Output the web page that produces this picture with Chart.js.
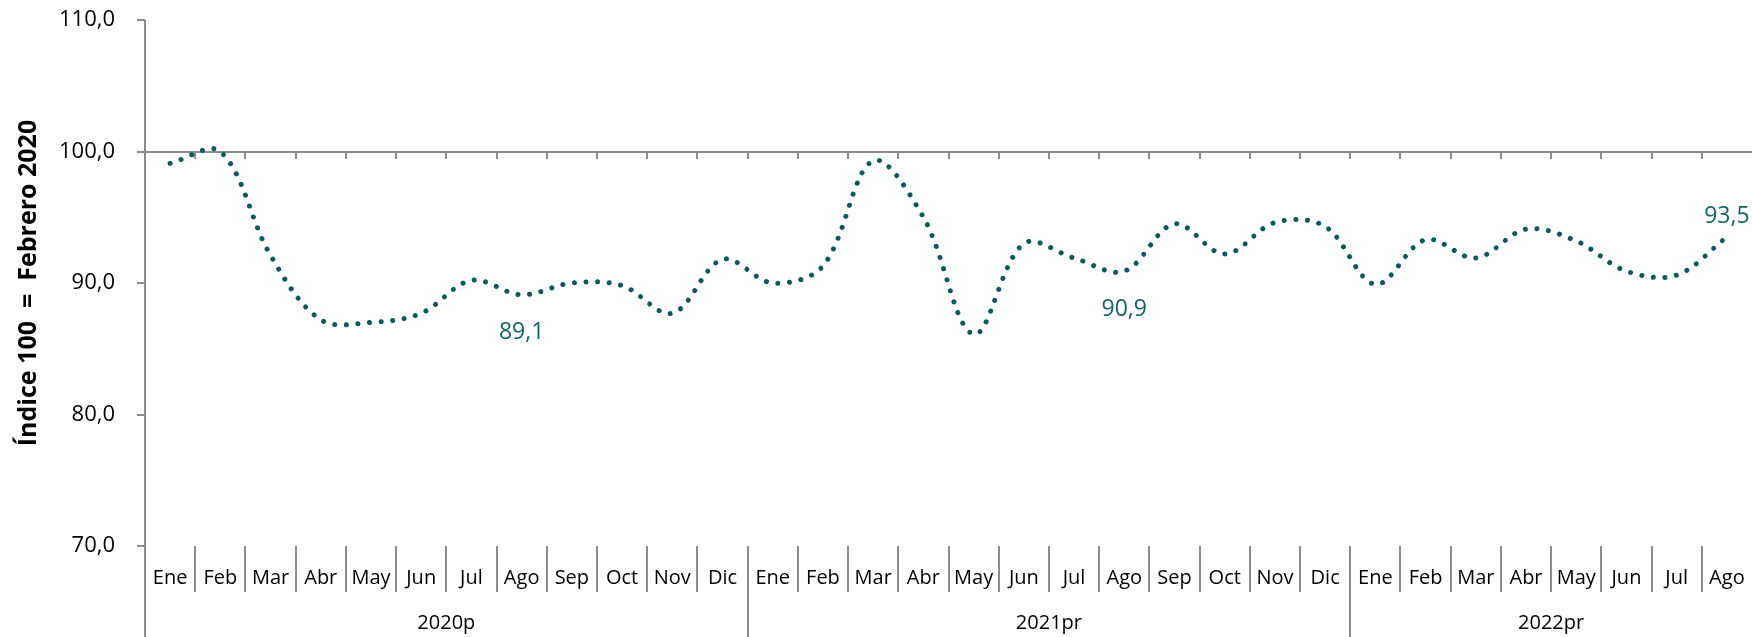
<!DOCTYPE html>
<html>
<head>
<meta charset="utf-8">
<script src="https://cdn.jsdelivr.net/npm/chart.js@4/dist/chart.umd.min.js"></script>
<style>
  html, body { margin: 0; padding: 0; background: #ffffff; }
  #wrap { width: 1752px; height: 637px; position: relative; }
</style>
</head>
<body>
<div id="wrap"><canvas id="c" width="1752" height="637"></canvas></div>
<script>
// ---- data ----
const months = ['Ene','Feb','Mar','Abr','May','Jun','Jul','Ago','Sep','Oct','Nov','Dic'];
const years = ['2020p', '2021pr', '2022pr'];
const yearCounts = [12, 12, 8];
const values2020 = [99.1, 100.0, 92.1, 87.2, 87.0, 87.7, 90.2, 89.1, 90.0, 89.8, 87.7, 91.8];
const values2021 = [90.0, 91.3, 99.3, 95.0, 86.1, 93.0, 91.9, 90.9, 94.5, 92.2, 94.6, 94.3];
const values2022 = [89.9, 93.3, 91.9, 94.1, 93.2, 90.9, 90.6, 93.5];
const yTicks = [70, 80, 90, 100, 110];
const axisCross = 100;
const labeledIndexes = [7, 19, 31];
const yTitle = 'Índice 100  =  Febrero 2020';

const categories = [];
yearCounts.forEach(n => { for (let i = 0; i < n; i++) categories.push(months[i]); });
const values = values2020.concat(values2021, values2022);

const FONT = "'Open Sans', 'Noto Sans', sans-serif";
const AXIS = '#8c8c8c';
const LINE = '#085a5c';
const LABEL = '#136565';
const fmt = v => v.toFixed(1).replace('.', ',');

const framePlugin = {
  id: 'frame',
  beforeDatasetsDraw(chart) {
    const { ctx, chartArea: ca, scales: { x, y } } = chart;
    const H = chart.height;
    const n = categories.length;
    const b = i => x.getPixelForValue(i - 0.5);
    const seg = (x1, y1, x2, y2) => { ctx.beginPath(); ctx.moveTo(x1, y1); ctx.lineTo(x2, y2); ctx.stroke(); };
    ctx.save();
    ctx.strokeStyle = AXIS;
    ctx.lineWidth = 2;
    const yc = Math.round(y.getPixelForValue(axisCross));
    seg(ca.left, yc, ca.right, yc);
    for (let i = 1; i < n; i++) {
      const bx = Math.round(b(i));
      seg(bx, yc, bx, yc + 7);
    }
    seg(ca.left, ca.top, ca.left, H);
    const yearStarts = new Set();
    let acc = 0;
    yearCounts.forEach(c => { yearStarts.add(acc); acc += c; });
    for (let i = 1; i < n; i++) {
      const bx = Math.round(b(i));
      if (yearStarts.has(i)) seg(bx, ca.bottom, bx, H);
      else seg(bx, ca.bottom, bx, ca.bottom + 46);
    }
    ctx.fillStyle = '#000000';
    ctx.textAlign = 'center';
    ctx.textBaseline = 'middle';
    ctx.font = '20px ' + FONT;
    for (let i = 0; i < n; i++) {
      ctx.fillText(categories[i], x.getPixelForValue(i), ca.bottom + 32);
    }
    acc = 0;
    yearCounts.forEach((c, k) => {
      const x1 = b(acc), x2 = b(acc + c);
      ctx.fillText(years[k], (x1 + x2) / 2, ca.bottom + 77);
      acc += c;
    });
    ctx.restore();
  },
  afterDatasetsDraw(chart) {
    const { ctx } = chart;
    const meta = chart.getDatasetMeta(0);
    ctx.save();
    ctx.fillStyle = LABEL;
    ctx.font = '23px ' + FONT;
    ctx.textAlign = 'center';
    ctx.textBaseline = 'middle';
    labeledIndexes.forEach((idx, k) => {
      const p = meta.data[idx];
      const dy = (k === labeledIndexes.length - 1) ? -21 : 38;
      ctx.fillText(fmt(values[idx]), p.x, p.y + dy);
    });
    ctx.restore();
  }
};

new Chart(document.getElementById('c'), {
  type: 'line',
  data: {
    labels: categories,
    datasets: [{
      data: values,
      borderColor: LINE,
      borderWidth: 5,
      borderDash: [0.01, 11.6],
      borderCapStyle: 'round',
      borderJoinStyle: 'round',
      pointRadius: 0,
      tension: 0.35,
      fill: false
    }]
  },
  options: {
    responsive: false,
    animation: false,
    devicePixelRatio: 1,
    layout: { padding: { top: 20, right: 0, bottom: 91, left: 0 } },
    plugins: { legend: { display: false }, tooltip: { enabled: false } },
    scales: {
      x: { type: 'category', offset: true, display: false },
      y: {
        min: 70, max: 110,
        afterBuildTicks: s => { s.ticks = yTicks.map(v => ({ value: v })); },
        afterFit: s => { s.width = 145; s.paddingTop = 0; s.paddingBottom = 0; },
        border: { display: false },
        grid: { drawOnChartArea: false, drawTicks: true, tickLength: 8, color: AXIS, lineWidth: 2 },
        ticks: {
          padding: 22,
          color: '#000000',
          font: { family: FONT, size: 22 },
          callback: v => fmt(v)
        },
        title: {
          display: true,
          text: yTitle,
          color: '#000000',
          font: { family: FONT, size: 25, weight: 'bold' },
          padding: { top: 14, bottom: 0 }
        }
      }
    }
  },
  plugins: [framePlugin]
});
</script>
</body>
</html>
